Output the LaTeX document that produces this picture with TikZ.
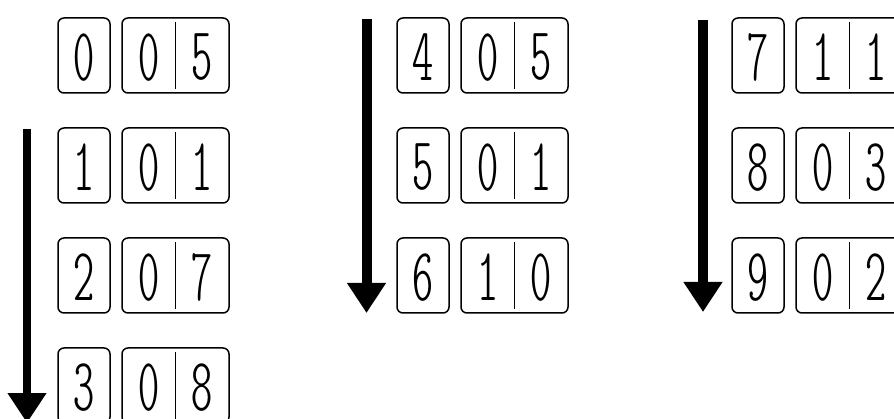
\documentclass[tikz,border=0pt]{standalone}
\usepackage{fontspec}
\newfontfamily\segfont[FakeStretch=0.8]{lmmonoltcond10-regular.otf}
\usetikzlibrary{arrows.meta}

\begin{document}
\begin{tikzpicture}[x=1pt, y=-1pt]

  % Styles
  \tikzset{
    frame/.style={draw, line width=1.5pt, rounded corners=6pt, minimum height=75pt},
    keybox/.style={frame, minimum width=52pt},
    valbox/.style={frame, minimum width=107pt},
    divider/.style={line width=1.2pt},
    digit/.style={font=\segfont\fontsize{75}{75}\selectfont, inner sep=0pt},
    flow/.style={line width=10pt, -{Triangle[width=37pt, length=30pt]}}
  }

  \useasboundingbox (0,0) rectangle (894,419);

  % --- KEY / VALUE BOXES ---
  \foreach \n/\a/\b/\x/\y in {0/0/5/58/18, 1/0/1/58/128, 2/0/7/58/238, 3/0/8/58/348,
                              4/0/5/397/18, 5/0/1/397/128, 6/1/0/397/238,
                              7/1/1/732/18, 8/0/3/732/128, 9/0/2/732/238}{
    \node[keybox] (key\n) at (\x+26, \y+37.5) {};
    \node[valbox] (val\n) at (\x+117.5, \y+37.5) {};
    \draw[divider] ([yshift=-5pt]val\n.north) -- ([yshift=5pt]val\n.south);
    \node[digit] (k\n) at ([yshift=-2pt]key\n.center) {\n};
    \node[digit] (a\n) at ([xshift=-26.75pt, yshift=-2pt]val\n.center) {\a};
    \node[digit] (b\n) at ([xshift=26.75pt, yshift=-2pt]val\n.center) {\b};
  }

  % --- ARROWS ---
  \coordinate (s1) at (27, 129);    \coordinate (e1) at (27, 423);
  \coordinate (s2) at (366.5, 19);  \coordinate (e2) at (366.5, 313);
  \coordinate (s3) at (703, 20);    \coordinate (e3) at (703, 312);

  \draw[flow, line width=8pt] (s1) -- (e1);
  \draw[flow] (s2) -- (e2);
  \draw[flow] (s3) -- (e3);

\end{tikzpicture}
\end{document}
